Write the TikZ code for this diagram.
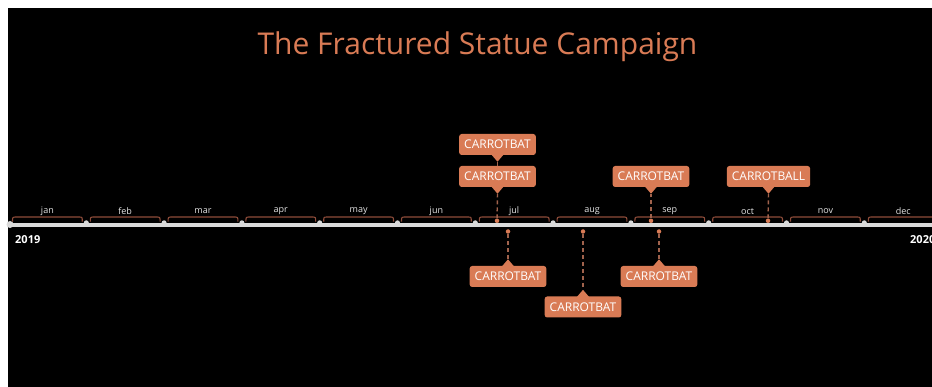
\documentclass[tikz,border=0pt]{standalone}
\usepackage{fontspec}
\setmainfont{Open Sans}
\usetikzlibrary{calc}
\definecolor{orng}{HTML}{D97B55}
\definecolor{dsh}{HTML}{A0624C}
\definecolor{brk}{HTML}{8E4C3A}
\definecolor{axisc}{HTML}{DADADA}
\definecolor{mlab}{HTML}{E4E4E4}
\begin{document}
\begin{tikzpicture}[x=1pt,y=-1pt,
  titletext/.style={text=orng,font=\fontsize{30}{32}\selectfont,inner sep=0},
  monthlab/.style={text=mlab,font=\fontsize{9}{10}\selectfont,inner sep=0},
  yearlab/.style={text=white,font=\fontsize{11}{12}\selectfont\bfseries,inner sep=0,anchor=west},
  tickdot/.style={circle,fill=axisc,inner sep=0,minimum size=5pt},
  evdot/.style={circle,fill=orng,inner sep=0,minimum size=4.5pt},
  callout/.style={fill=orng,rounded corners=2.5pt,text=white,font=\fontsize{12}{12}\selectfont,minimum height=21pt,inner xsep=5pt,inner ysep=0pt},
  bracketline/.style={draw=brk,line width=1.1pt},
  dashline/.style={draw=dsh,line width=1.4pt,dash pattern=on 4pt off 3pt},
  axisline/.style={draw=axisc,line width=4.5pt}
]
\useasboundingbox (0,0) rectangle (932,387);
\fill[white] (0,0) rectangle (932,387);
\fill[black] (8,8) rectangle (932,387);

\node[titletext] (title) at (477.5,47) {The Fractured Statue Campaign};

% axis
\draw[axisline] (10,225) -- (932,225);
\node[circle,fill=axisc,inner sep=0,minimum size=7pt] (start) at (10,224.5) {};

% months
\foreach \m [count=\i from 0] in {jan,feb,mar,apr,may,jun,jul,aug,sep,oct,nov,dec}{
  \pgfmathsetmacro{\xs}{8.5+77.8*\i}
  \pgfmathsetmacro{\xe}{8.5+77.8*(\i+1)}
  \pgfmathsetmacro{\xm}{(\xs+\xe)/2}
  \ifnum\i>0 \node[tickdot] (t\i) at (\xs,222.8) {};\fi
  \draw[bracketline] (\xs+4,221.7) .. controls (\xs+4,217) .. (\xs+8,217) -- (\xe-8,217) .. controls (\xe-4,217) .. (\xe-4,221.7);
  \node[monthlab] (m\i) at (\xm,211.5) {\m};
}

\node[yearlab] (y1) at (15,240) {2019};
\node[yearlab] (y2) at (910,240) {2020};

% events
\node[evdot] (e1) at (497,220.8) {};
\node[evdot] (e2) at (651,220.8) {};
\node[evdot] (e3) at (768,220.8) {};
\node[evdot] (e4) at (508,231.5) {};
\node[evdot] (e5) at (583,231.5) {};
\node[evdot] (e6) at (659,231.5) {};

% callouts
\node[callout] (b0) at (497.5,144.5) {CARROTBAT};
\node[callout] (b1) at (497.5,176.5) {CARROTBAT};
\node[callout] (b2) at (651,176.5) {CARROTBAT};
\node[callout] (b3) at (768.5,176.5) {CARROTBALL};
\node[callout] (b4) at (508,276.5) {CARROTBAT};
\node[callout] (b5) at (583,307) {CARROTBAT};
\node[callout] (b6) at (659,276.5) {CARROTBAT};

% pointer tips
\foreach \b in {b0,b1,b2,b3}{
  \coordinate (p\b) at ($(\b.south)+(0,6.5)$);
  \fill[orng] ($(\b.south)+(-6,-0.5)$) -- (p\b) -- ($(\b.south)+(6,-0.5)$) -- cycle;
}
\foreach \b in {b4,b5,b6}{
  \coordinate (p\b) at ($(\b.north)+(0,-6.5)$);
  \fill[orng] ($(\b.north)+(-6,0.5)$) -- (p\b) -- ($(\b.north)+(6,0.5)$) -- cycle;
}

% connectors
\draw[dashline] (e1) -- (pb1);
\draw[dashline] (b1.north) -- (pb0);
\draw[dashline] (e2) -- (pb2);
\draw[dashline] (e3) -- (pb3);
\draw[dashline] (e4) -- (pb4);
\draw[dashline] (e5) -- (pb5);
\draw[dashline] (e6) -- (pb6);
\end{tikzpicture}
\end{document}
